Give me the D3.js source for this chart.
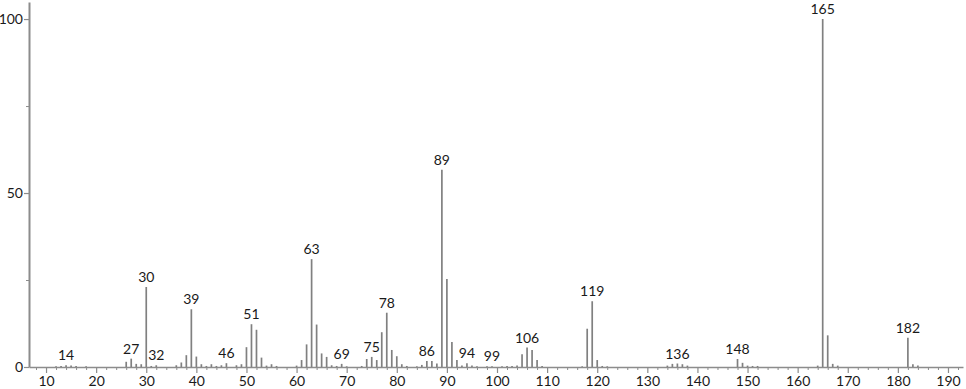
<!DOCTYPE html>
<html>
<head>
<meta charset="utf-8">
<script src="https://cdn.jsdelivr.net/npm/d3@7"></script>
<style>
  html, body { margin: 0; padding: 0; background: #fff; }
  svg { display: block; }
  text { font-family: Lato, "DejaVu Sans", sans-serif; }
</style>
</head>
<body>
<svg id="chart" width="966" height="389"></svg>
<script>
// m/z values and relative intensities
const mz = [12, 13, 14, 15, 16, 18, 26, 27, 28, 29, 30, 31, 32, 36, 37, 38, 39, 40, 41, 42, 43, 44, 45, 46, 48, 49,
  50, 51, 52, 53, 54, 55, 56, 60, 61, 62, 63, 64, 65, 66, 67, 68, 69, 70, 73, 74, 75, 76, 77, 78, 79, 80, 81, 82,
  84, 85, 86, 87, 88, 89, 90, 91, 92, 93, 94, 95, 96, 98, 99, 101, 102, 103, 104, 105, 106, 107, 108, 109,
  117, 118, 119, 120, 121, 122, 134, 135, 136, 137, 138, 148, 149, 150, 151, 152, 164, 165, 166, 167, 168,
  182, 183, 184];
const intensity = [0.2, 0.3, 0.5, 0.4, 0.3, 0.2, 1.5, 2.4, 0.9, 0.8, 23, 0.3, 0.5, 0.5, 1.3, 3.4, 16.6, 3.0, 0.8, 0.3, 0.8, 0.3, 0.5, 1.1, 0.5, 0.8,
  5.7, 12.3, 10.7, 2.7, 0.4, 0.8, 0.3, 0.4, 2.0, 6.5, 31, 12.2, 3.9, 2.9, 0.5, 0.3, 0.9, 0.2, 0.3, 2.3, 2.9, 2.0, 10.0, 15.6, 4.9, 3.1, 0.8, 0.3,
  0.2, 0.6, 1.7, 1.7, 1.0, 56.7, 25.3, 7.2, 2.0, 0.4, 1.1, 0.4, 0.2, 0.2, 0.2, 0.2, 0.3, 0.3, 0.4, 3.7, 5.6, 4.9, 2.0, 0.3,
  0.2, 11.0, 18.9, 2.0, 0.3, 0.2, 0.4, 0.9, 1.0, 0.8, 0.4, 2.3, 1.2, 0.4, 0.3, 0.3, 0.4, 100, 9.1, 0.9, 0.4,
  8.4, 0.8, 0.4];
const peakLabels = [14, 27, 30, 32, 39, 46, 51, 63, 69, 75, 78, 86, 89, 94, 99, 106, 119, 136, 148, 165, 182];
const xTickLabels = [10, 20, 30, 40, 50, 60, 70, 80, 90, 100, 110, 120, 130, 140, 150, 160, 170, 180, 190];
const yTickLabels = [0, 50, 100];
const yMinorTicks = [25, 75];

const svg = d3.select("#chart");
const x = d3.scaleLinear().domain([6.6, 193]).range([29, 963]);
const y = d3.scaleLinear().domain([0, 104.9]).range([367, 2]);

const axisColor = "#8c8c8c";
const textColor = "#1a1a1a";

// minor x ticks every 2 units
const minorX = d3.range(8, 193, 2).filter(v => v % 10 !== 0);
const gx = svg.append("g").attr("transform", `translate(0,${y(0)})`);
gx.call(d3.axisBottom(x).tickValues(minorX).tickSize(3).tickFormat(""));
gx.call(g => g.select(".domain").remove());
gx.selectAll("line").attr("stroke", axisColor).attr("stroke-width", 1);

const gxMaj = svg.append("g").attr("transform", `translate(0,${y(0)})`);
gxMaj.call(d3.axisBottom(x).tickValues(xTickLabels).tickSize(6).tickPadding(3).tickSizeOuter(0));
gxMaj.select(".domain").attr("stroke", axisColor).attr("stroke-width", 1.5);
gxMaj.selectAll("line").attr("stroke", axisColor).attr("stroke-width", 1.2);
gxMaj.selectAll("text").attr("fill", textColor).style("font-size", "14px");

// y axis
const gyMin = svg.append("g").attr("transform", `translate(${x.range()[0]},0)`);
gyMin.call(d3.axisLeft(y).tickValues(yMinorTicks).tickSize(3).tickFormat(""));
gyMin.call(g => g.select(".domain").remove());
gyMin.selectAll("line").attr("stroke", axisColor);

const gy = svg.append("g").attr("transform", `translate(${x.range()[0]},0)`);
gy.call(d3.axisLeft(y).tickValues(yTickLabels).tickSize(5).tickPadding(1).tickSizeOuter(0));
gy.select(".domain").attr("stroke", axisColor).attr("stroke-width", 2);
gy.selectAll("line").attr("stroke", axisColor).attr("stroke-width", 1.2);
gy.selectAll("text").attr("fill", textColor).style("font-size", "14px");

// bars
const data = mz.map((m, i) => ({ m, v: intensity[i] }));
svg.append("g").selectAll("line").data(data).join("line")
  .attr("x1", d => x(d.m)).attr("x2", d => x(d.m))
  .attr("y1", y(0)).attr("y2", d => y(d.v))
  .attr("stroke", "#808080").attr("stroke-width", 1.7);

// peak labels
svg.append("g").selectAll("text").data(peakLabels).join("text")
  .attr("x", m => x(m))
  .attr("y", m => y(intensity[mz.indexOf(m)]) - 5)
  .attr("text-anchor", "middle")
  .attr("fill", textColor)
  .style("font-size", "14px")
  .text(m => m);
</script>
</body>
</html>
